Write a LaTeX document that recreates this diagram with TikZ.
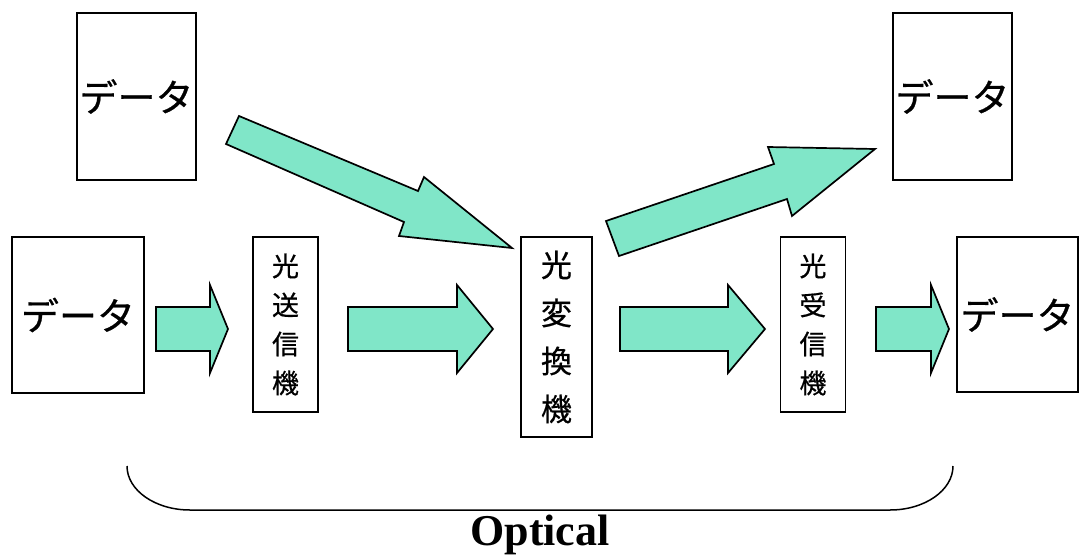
\documentclass[tikz,border=0pt]{standalone}
\usepackage{fontspec}
\setmainfont{Liberation Serif}
\newfontfamily\cjk[FakeBold=0.6]{Noto Sans CJK JP}
\definecolor{mint}{RGB}{128,230,200}
\tikzset{
  box/.style={draw=black, line width=1.5pt, inner sep=0pt, fill=white},
  bigtxt/.style={font=\cjk\fontsize{38}{40}\selectfont},
  smalltxt/.style={font=\cjk\fontsize{27}{39}\selectfont, align=center},
  midtxt/.style={font=\cjk\fontsize{31}{48}\selectfont, align=center},
  blockarrow/.style={draw=black, line width=1.7pt, fill=mint, line join=miter},
}
\newcommand{\harrow}[3]{%
  \draw[blockarrow] (#1,307) -- (#2,307) -- (#2,285) -- (#3,329) -- (#2,373) -- (#2,351) -- (#1,351) -- cycle;}
\begin{document}
\begin{tikzpicture}[x=1pt,y=-1pt]
\useasboundingbox (0,0) rectangle (1080,557);
% boxes
\node[box, minimum width=119pt, minimum height=167pt, bigtxt] (d1) at (136.5,96.5) {データ};
\node[box, minimum width=119pt, minimum height=167pt, bigtxt] (d2) at (952.5,96.5) {データ};
\node[box, minimum width=132pt, minimum height=156pt, bigtxt] (d3) at (78,315) {データ};
\node[box, minimum width=65pt, minimum height=175pt, smalltxt] (tx) at (285.5,324.5) {光\\送\\信\\機};
\node[box, minimum width=71pt, minimum height=200pt, midtxt] (cv) at (556.5,337) {光\\変\\換\\機};
\node[box, minimum width=65pt, minimum height=175pt, smalltxt] (rx) at (813,324.5) {光\\受\\信\\機};
\node[box, minimum width=121pt, minimum height=155pt, bigtxt] (d4) at (1017.5,314.5) {データ};
% horizontal block arrows
\harrow{156}{210}{228}
\harrow{348}{457}{493}
\harrow{620}{728}{765}
\harrow{876}{931}{949}
% diagonal block arrows
\draw[blockarrow] (239,116) -- (418,191) -- (424,177) -- (512,248) -- (399,236) -- (404,222) -- (226,144) -- cycle;
\draw[blockarrow] (606,221) -- (774,164) -- (768,147) -- (875,149) -- (792,216) -- (787,199) -- (619,256) -- cycle;
% brace
\coordinate (bl) at (127,466);
\coordinate (br) at (953,466);
\draw[line width=1.5pt] (bl) arc[start angle=180, end angle=270, x radius=63, y radius=-44] -- (890,510) arc[start angle=270, end angle=360, x radius=63, y radius=-44];
\node[font=\bfseries\fontsize{44}{44}\selectfont, anchor=base] (opt) at (540,545) {Optical};
\end{tikzpicture}
\end{document}
